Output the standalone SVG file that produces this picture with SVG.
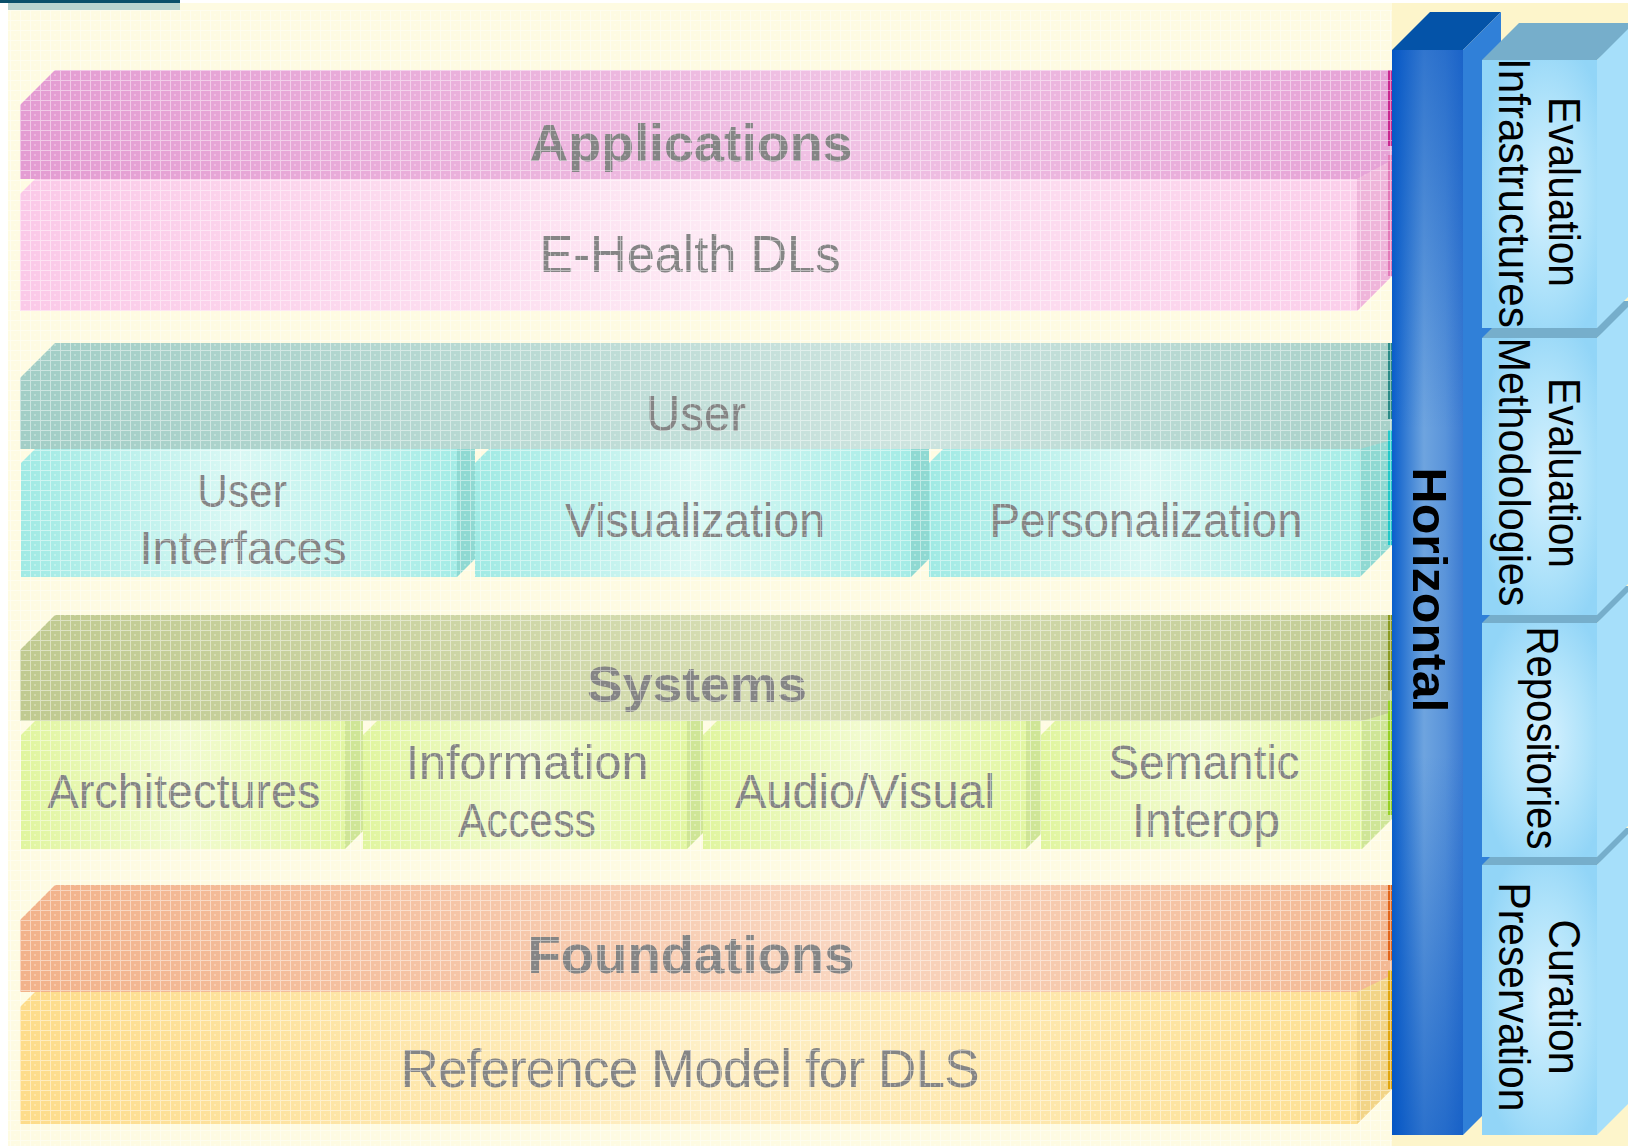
<svg xmlns="http://www.w3.org/2000/svg" width="1628" height="1146" viewBox="0 0 1628 1146">
<defs>
<style>
.lbl{font-family:"Liberation Sans",Arial,sans-serif;fill:#858585;text-anchor:middle}
.b{font-weight:bold}
.vt{font-family:"Liberation Sans",Arial,sans-serif;fill:#000;text-anchor:middle}
</style>
<pattern id="grid" width="10" height="10" patternUnits="userSpaceOnUse">
<rect x="0" y="0" width="10" height="1" fill="#fff"/>
<rect x="0" y="0" width="1" height="10" fill="#fff"/>
<rect x="4" y="4" width="2" height="2" fill="#fff" opacity="0.6"/>
</pattern>
<linearGradient id="gA" x1="0" x2="1"><stop offset="0" stop-color="#e49cd2"/><stop offset="0.6" stop-color="#f0c2e4"/><stop offset="1" stop-color="#e6a2d6"/></linearGradient>
<linearGradient id="gE" x1="0" x2="1"><stop offset="0" stop-color="#fbc9e8"/><stop offset="0.5" stop-color="#fde9f4"/><stop offset="1" stop-color="#fbcdea"/></linearGradient>
<linearGradient id="gU" x1="0" x2="1"><stop offset="0" stop-color="#a2cec6"/><stop offset="0.65" stop-color="#cde4df"/><stop offset="1" stop-color="#a6d0c8"/></linearGradient>
<linearGradient id="gUs" x1="0" x2="1"><stop offset="0" stop-color="#a0eae4"/><stop offset="0.5" stop-color="#daf8f4"/><stop offset="1" stop-color="#a4ece6"/></linearGradient>
<linearGradient id="gS" x1="0" x2="1"><stop offset="0" stop-color="#c0ca90"/><stop offset="0.55" stop-color="#d7deb4"/><stop offset="1" stop-color="#c2cc94"/></linearGradient>
<linearGradient id="gSs" x1="0" x2="1"><stop offset="0" stop-color="#e0f59e"/><stop offset="0.5" stop-color="#f2fbd0"/><stop offset="1" stop-color="#e2f6a2"/></linearGradient>
<linearGradient id="gF" x1="0" x2="1"><stop offset="0" stop-color="#f2b28a"/><stop offset="0.6" stop-color="#f9d6c0"/><stop offset="1" stop-color="#f3b892"/></linearGradient>
<linearGradient id="gR" x1="0" x2="1"><stop offset="0" stop-color="#fddc8a"/><stop offset="0.5" stop-color="#feefc6"/><stop offset="1" stop-color="#fddf90"/></linearGradient>
<linearGradient id="gH" x1="0" x2="1"><stop offset="0" stop-color="#0a5ecb"/><stop offset="0.3" stop-color="#4d8dd8"/><stop offset="0.45" stop-color="#6ea4df"/><stop offset="0.75" stop-color="#5a94da"/><stop offset="1" stop-color="#3b7bd2"/></linearGradient>
<linearGradient id="gHv" x1="0" y1="0" x2="0" y2="1"><stop offset="0" stop-color="#0050c0" stop-opacity="0.55"/><stop offset="0.35" stop-color="#0050c0" stop-opacity="0"/><stop offset="0.65" stop-color="#0050c0" stop-opacity="0"/><stop offset="1" stop-color="#0050c0" stop-opacity="0.6"/></linearGradient>
<radialGradient id="gB" cx="0.55" cy="0.5" r="0.6"><stop offset="0" stop-color="#d6f1fe"/><stop offset="0.6" stop-color="#aee2fa"/><stop offset="1" stop-color="#92d5f7"/></radialGradient>
</defs>

<rect x="0" y="0" width="1628" height="1146" fill="#ffffff"/>
<rect x="8" y="3" width="1620" height="1143" fill="#fdf5cb"/>
<rect x="8" y="3" width="1384" height="1143" fill="#fefbe2"/>
<rect x="0" y="0" width="180" height="3" fill="#0a4f6a"/>
<rect x="8" y="3" width="172" height="7" fill="#b9d3cf"/>

<g id="applications">
<polygon points="20,105 55,70 1392,70 1392,179 20,179" fill="url(#gA)"/>
<rect x="1388" y="70" width="4" height="76" fill="#c8288f"/>
<text class="lbl b" x="691" y="161" font-size="52" textLength="323" lengthAdjust="spacingAndGlyphs">Applications</text>
</g>
<g id="ehealth">
<polygon points="20,194 35,179 1392,179 1392,276 1357,311 20,311" fill="url(#gE)"/>
<polygon points="1357,179 1392,160 1392,276 1357,311" fill="#efb5da"/>
<rect x="1388" y="155" width="4" height="121" fill="#e27ab8"/>
<text class="lbl" x="690" y="272" font-size="52" textLength="301" lengthAdjust="spacingAndGlyphs">E-Health DLs</text>
</g>

<g id="user">
<polygon points="20,378 55,343 1392,343 1392,449 20,449" fill="url(#gU)"/>
<rect x="1388" y="343" width="4" height="76" fill="#2a8a86"/>
<text class="lbl" x="696" y="431" font-size="50" textLength="100" lengthAdjust="spacingAndGlyphs">User</text>
</g>
<g id="user-interfaces">
<polygon points="21,463 35,449 457,449 457,577 21,577" fill="url(#gUs)"/>
<polygon points="457,449 475,449 475,559 457,577" fill="#8fd9d2"/>
<text class="lbl" x="242" y="507" font-size="47" textLength="90" lengthAdjust="spacingAndGlyphs">User</text>
<text class="lbl" x="243" y="564" font-size="47" textLength="207" lengthAdjust="spacingAndGlyphs">Interfaces</text>
</g>
<g id="visualization">
<polygon points="475,463 489,449 911,449 911,577 475,577" fill="url(#gUs)"/>
<polygon points="911,449 929,449 929,559 911,577" fill="#8fd9d2"/>
<text class="lbl" x="695" y="537" font-size="48" textLength="260" lengthAdjust="spacingAndGlyphs">Visualization</text>
</g>
<g id="personalization">
<polygon points="929,463 943,449 1360,449 1360,577 929,577" fill="url(#gUs)"/>
<polygon points="1360,449 1392,440 1392,545 1360,577" fill="#8fd9d2"/>
<rect x="1388" y="430" width="4" height="115" fill="#22c8c8"/>
<text class="lbl" x="1146" y="537" font-size="48" textLength="313" lengthAdjust="spacingAndGlyphs">Personalization</text>
</g>

<g id="systems">
<polygon points="20,650 55,615 1392,615 1392,721 20,721" fill="url(#gS)"/>
<rect x="1388" y="615" width="4" height="76" fill="#8a9a22"/>
<text class="lbl b" x="697" y="702" font-size="50" textLength="220" lengthAdjust="spacingAndGlyphs">Systems</text>
</g>
<g id="architectures">
<polygon points="21,735 35,721 345,721 345,849 21,849" fill="url(#gSs)"/>
<polygon points="345,721 363,721 363,831 345,849" fill="#cfe596"/>
<text class="lbl" x="184" y="808" font-size="48" textLength="273" lengthAdjust="spacingAndGlyphs">Architectures</text>
</g>
<g id="information-access">
<polygon points="363,735 377,721 687,721 687,849 363,849" fill="url(#gSs)"/>
<polygon points="687,721 703,721 703,833 687,849" fill="#cfe596"/>
<text class="lbl" x="527" y="779" font-size="48" textLength="243" lengthAdjust="spacingAndGlyphs">Information</text>
<text class="lbl" x="527" y="837" font-size="48" textLength="138" lengthAdjust="spacingAndGlyphs">Access</text>
</g>
<g id="audio-visual">
<polygon points="703,735 717,721 1026,721 1026,849 703,849" fill="url(#gSs)"/>
<polygon points="1026,721 1041,721 1041,834 1026,849" fill="#cfe596"/>
<text class="lbl" x="865" y="808" font-size="48" textLength="260" lengthAdjust="spacingAndGlyphs">Audio/Visual</text>
</g>
<g id="semantic-interop">
<polygon points="1041,735 1055,721 1362,721 1362,849 1041,849" fill="url(#gSs)"/>
<polygon points="1362,721 1392,712 1392,819 1362,849" fill="#cfe596"/>
<rect x="1388" y="700" width="4" height="115" fill="#96d026"/>
<text class="lbl" x="1204" y="779" font-size="48" textLength="191" lengthAdjust="spacingAndGlyphs">Semantic</text>
<text class="lbl" x="1206" y="837" font-size="48" textLength="148" lengthAdjust="spacingAndGlyphs">Interop</text>
</g>

<g id="foundations">
<polygon points="20,920 55,885 1392,885 1392,992 20,992" fill="url(#gF)"/>
<rect x="1388" y="885" width="4" height="76" fill="#e0661c"/>
<text class="lbl b" x="691" y="973" font-size="51" textLength="327" lengthAdjust="spacingAndGlyphs">Foundations</text>
</g>
<g id="reference-model">
<polygon points="20,1007 35,992 1392,992 1392,1089 1357,1124 20,1124" fill="url(#gR)"/>
<polygon points="1357,992 1392,975 1392,1089 1357,1124" fill="#f2d486"/>
<rect x="1388" y="970" width="4" height="119" fill="#e0a610"/>
<text class="lbl" x="690" y="1087" font-size="53" textLength="579" lengthAdjust="spacing">Reference Model for DLS</text>
</g>

<rect x="8" y="10" width="1384" height="1136" fill="url(#grid)" opacity="0.45"/>

<g id="horizontal">
<polygon points="1392,50 1430,12 1501,12 1463,50" fill="#0453a8"/>
<polygon points="1463,50 1501,12 1501,1097 1463,1135" fill="#3080d8"/>
<rect x="1392" y="50" width="71" height="1085" fill="url(#gH)"/>
<rect x="1392" y="50" width="71" height="1085" fill="url(#gHv)"/>
<text class="vt b" transform="translate(1413,590) rotate(90)" font-size="48" textLength="245" lengthAdjust="spacingAndGlyphs">Horizontal</text>
</g>

<g id="curation-preservation">
<polygon points="1482,865 1519,828 1640,828 1597,865" fill="#76aecb"/>
<polygon points="1597,865 1634,828 1634,1098 1597,1135" fill="#a6dffa"/>
<rect x="1482" y="865" width="115" height="270" fill="url(#gB)"/>
<text class="vt" transform="translate(1549,997) rotate(90)" font-size="44" textLength="155" lengthAdjust="spacingAndGlyphs">Curation</text>
<text class="vt" transform="translate(1499,997) rotate(90)" font-size="44" textLength="229" lengthAdjust="spacingAndGlyphs">Preservation</text>
</g>
<g id="repositories">
<polygon points="1482,623 1519,586 1640,586 1597,623" fill="#76aecb"/>
<polygon points="1597,623 1634,586 1634,820 1597,857" fill="#a6dffa"/>
<rect x="1482" y="623" width="115" height="234" fill="url(#gB)"/>
<text class="vt" transform="translate(1527,738) rotate(90)" font-size="44" textLength="223" lengthAdjust="spacingAndGlyphs">Repositories</text>
</g>
<g id="evaluation-methodologies">
<polygon points="1482,338 1519,301 1640,301 1597,338" fill="#76aecb"/>
<polygon points="1597,338 1634,301 1634,578 1597,615" fill="#a6dffa"/>
<rect x="1482" y="338" width="115" height="277" fill="url(#gB)"/>
<text class="vt" transform="translate(1549,473) rotate(90)" font-size="44" textLength="190" lengthAdjust="spacingAndGlyphs">Evaluation</text>
<text class="vt" transform="translate(1499,472) rotate(90)" font-size="44" textLength="269" lengthAdjust="spacingAndGlyphs">Methodologies</text>
</g>
<g id="evaluation-infrastructures">
<polygon points="1482,60 1519,23 1640,23 1597,60" fill="#76aecb"/>
<polygon points="1597,60 1634,23 1634,291 1597,328" fill="#a6dffa"/>
<rect x="1482" y="60" width="115" height="268" fill="url(#gB)"/>
<text class="vt" transform="translate(1549,192) rotate(90)" font-size="44" textLength="190" lengthAdjust="spacingAndGlyphs">Evaluation</text>
<text class="vt" transform="translate(1499,193) rotate(90)" font-size="44" textLength="270" lengthAdjust="spacingAndGlyphs">Infrastructures</text>
</g>

<g id="connectors"></g>
</svg>
